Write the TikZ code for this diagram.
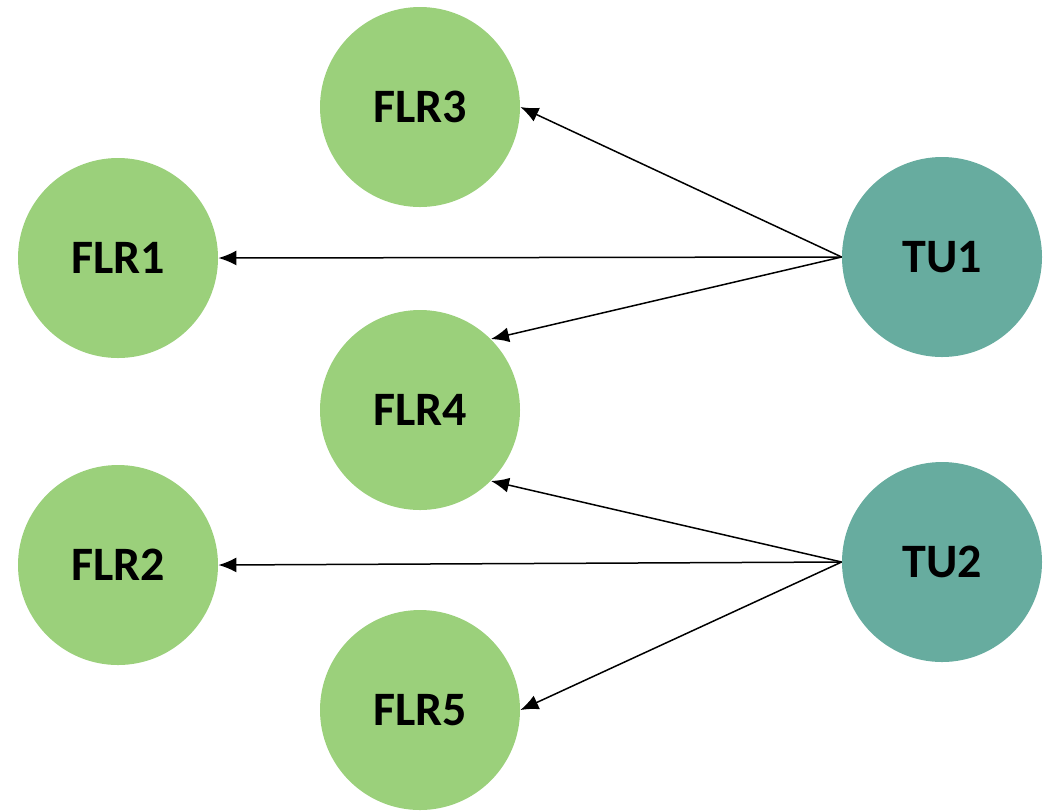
\documentclass[tikz,border=0pt]{standalone}
\usepackage{fontspec}
\setmainfont{Carlito}
\usepackage{tikz}
\usetikzlibrary{arrows.meta, automata, positioning}
\usepackage{xcolor}
\definecolor{flrgreen}{RGB}{155,208,123}
\definecolor{tuteal}{RGB}{103,172,159}

\begin{document}
\begin{tikzpicture}[x=0.5pt,y=-0.5pt,auto,
    >={Latex[length=9pt,width=7.5pt]}]
  \tikzstyle{every state}=[draw=none,minimum size=100pt,inner sep=0pt,
    font=\fontsize{24}{28}\selectfont\bfseries]
  \tikzstyle{flr}=[fill=flrgreen]
  \tikzstyle{tu}=[fill=tuteal]
  \useasboundingbox (0,0) rectangle (1048,811);

  \node[state,flr] (FLR3) at (420,107) {FLR3};
  \node[state,flr] (FLR1) at (118,258) {FLR1};
  \node[state,flr] (FLR4) at (420,410) {FLR4};
  \node[state,flr] (FLR2) at (118,565) {FLR2};
  \node[state,flr] (FLR5) at (420,710) {FLR5};
  \node[state,tu]  (TU1)  at (942,257) {TU1};
  \node[state,tu]  (TU2)  at (942,562) {TU2};

  \path[->,line width=0.75pt]
  (TU1.west) edge (FLR3.east)
  (TU1.west) edge (FLR1.east)
  (TU1.west) edge (FLR4.north east)
  (TU2.west) edge (FLR4.south east)
  (TU2.west) edge (FLR2.east)
  (TU2.west) edge (FLR5.east)
  ;
\end{tikzpicture}
\end{document}
